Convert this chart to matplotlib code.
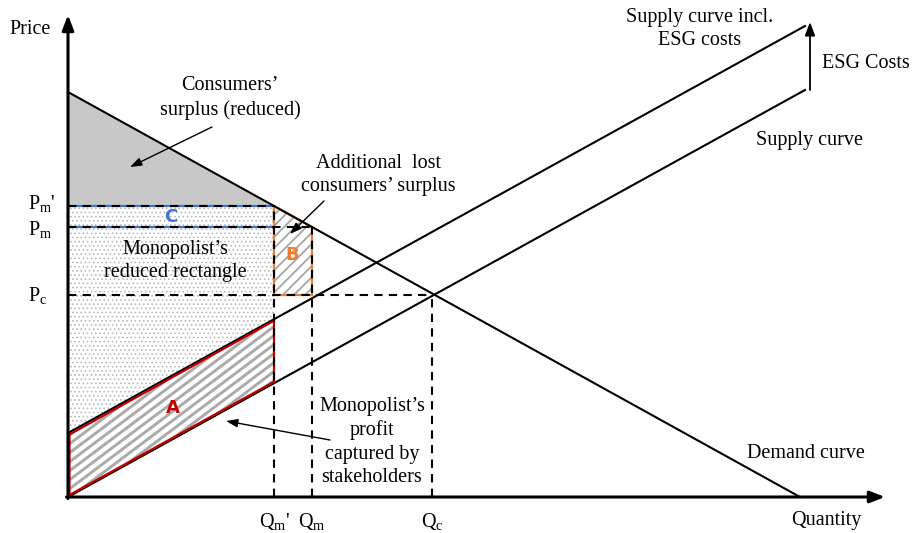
import numpy as np
import matplotlib
matplotlib.use("Agg")
import matplotlib.pyplot as plt
from matplotlib.patches import Polygon

plt.rcParams['font.family'] = ['Liberation Serif', 'DejaVu Serif']
plt.rcParams['mathtext.fontset'] = 'custom'
plt.rcParams['mathtext.rm'] = 'Liberation Serif'
plt.rcParams['mathtext.it'] = 'Liberation Serif'

# ---- data (quantity / price units) ----
demand_q = [0, 732]
demand_p = [405, 0]
supply_q = [0, 737]
supply_p = [0, 407]
esg_shift = 64
esg_supply_p = [esg_shift, 407 + esg_shift]

Q_c, Q_m, Q_mp = 364, 244, 206
P_c, P_m, P_mp = 202, 270, 291

price_labels = [r"P$_{\rm m}$'", r"P$_{\rm m}$", r"P$_{\rm c}$"]
qty_labels = [r"Q$_{\rm m}$'", r"Q$_{\rm m}$", r"Q$_{\rm c}$"]

x_axis_end = 817
y_axis_end = 482


def line_at(q, xs, ys):
    return ys[0] + (ys[1] - ys[0]) * (q - xs[0]) / (xs[1] - xs[0])


def demand(q):
    return line_at(q, demand_q, demand_p)


def supply(q):
    return line_at(q, supply_q, supply_p)


def esg_supply(q):
    return line_at(q, supply_q, esg_supply_p)


fig = plt.figure(figsize=(9.15, 5.33), dpi=100)
ax = fig.add_axes([0, 0, 1, 1])
ax.set_xlim(-68, 847)
ax.set_ylim(-36, 497)
ax.axis('off')

FS = 14.5
LS = 1.32

# stipple region (monopolist's reduced rectangle + C)
with plt.rc_context({'hatch.linewidth': 0.7}):
    stip = Polygon([(0, esg_supply(0)), (0, P_mp), (Q_mp, P_mp), (Q_mp, esg_supply(Q_mp))],
                   closed=True, facecolor='white', edgecolor='#bababa', lw=0, hatch='....', zorder=1)
    ax.add_patch(stip)

# consumers' surplus (reduced)
cs = Polygon([(0, demand(0)), (Q_mp, P_mp), (0, P_mp)], closed=True,
             facecolor='#c8c8c8', edgecolor='none', zorder=1)
ax.add_patch(cs)

# C rectangle outline
crect = Polygon([(0, P_m), (Q_mp, P_m), (Q_mp, P_mp), (0, P_mp)], closed=True,
                facecolor='none', edgecolor='#4472c4', lw=1.6, zorder=2)
ax.add_patch(crect)

# region A: white fill + stripes clipped to the region
a_verts = [(0, supply(0)), (Q_mp, supply(Q_mp)), (Q_mp, esg_supply(Q_mp)), (0, esg_supply(0))]
a_poly = Polygon(a_verts, closed=True, facecolor='white', edgecolor='none', zorder=2)
ax.add_patch(a_poly)
stripe_slope = 0.75
for c in np.arange(-200, 90, 9.0):
    xs = np.array([-5, Q_mp + 5])
    ln, = ax.plot(xs, c + stripe_slope * xs, color='#aaaaaa', lw=2.1, zorder=2.2,
                  solid_capstyle='butt')
    ln.set_clip_path(a_poly)

# region B: 45-degree hatch
with plt.rc_context({'hatch.linewidth': 1.3}):
    b_poly = Polygon([(Q_mp, P_c), (Q_m, P_c), (Q_m, P_m), (Q_mp, P_mp)],
                     closed=True, facecolor='white', edgecolor='#a6a6a6', lw=0, hatch='///', zorder=2)
    ax.add_patch(b_poly)

# curves
ax.plot(demand_q, demand_p, color='black', lw=1.5, zorder=4)
ax.plot(supply_q, supply_p, color='black', lw=1.5, zorder=4)
ax.plot(supply_q, esg_supply_p, color='black', lw=1.5, zorder=4)

# outlines of A and B
ax.add_patch(Polygon([(1.5, supply(0) + 2), (Q_mp, supply(Q_mp) + 1.5), (Q_mp, esg_supply(Q_mp) - 1.5),
                      (1.5, esg_supply(0) - 1.5)],
                     closed=True, facecolor='none', edgecolor='#c00000', lw=1.6, zorder=4.5))
ax.add_patch(Polygon([(Q_mp, P_c), (Q_m, P_c), (Q_m, P_m), (Q_mp, P_mp)],
                     closed=True, facecolor='none', edgecolor='#ed7d31', lw=1.6, zorder=3))

# dashed guide lines
dash = dict(color='black', lw=1.5, linestyle=(0, (4, 3)), zorder=5)
ax.plot([0, Q_mp], [P_mp, P_mp], **dash)
ax.plot([0, Q_m], [P_m, P_m], **dash)
ax.plot([0, Q_c], [P_c, P_c], **dash)
ax.plot([Q_mp, Q_mp], [0, P_mp], **dash)
ax.plot([Q_m, Q_m], [0, P_m], **dash)
ax.plot([Q_c, Q_c], [0, P_c], **dash)

# axes with arrows
arrow_axis = dict(arrowstyle='-|>,head_length=0.9,head_width=0.35', color='black', lw=2.2,
                  shrinkA=0, shrinkB=0)
ax.annotate('', xy=(0, y_axis_end), xytext=(0, -1.5), arrowprops=arrow_axis, zorder=6)
ax.annotate('', xy=(x_axis_end, 0), xytext=(-1.5, 0), arrowprops=arrow_axis, zorder=6)

# ESG cost arrow
ax.annotate('', xy=(742, 475), xytext=(742, 407),
            arrowprops=dict(arrowstyle='-|>,head_length=0.8,head_width=0.3', color='black', lw=1.3,
                            shrinkA=0, shrinkB=0), zorder=6)

# axis labels
ax.text(-38, 467, 'Price', fontsize=FS, ha='center', va='center')
ax.text(758, -24, 'Quantity', fontsize=FS, ha='center', va='center')

# price / quantity tick labels
for lab, p, dy in zip(price_labels, [P_mp, P_m, P_c], [2, -3, -1]):
    ax.text(-40, p + dy, lab, fontsize=FS, ha='left', va='center')
for lab, q in zip(qty_labels, [Q_mp, Q_m, Q_c]):
    ax.text(q, -24, lab, fontsize=FS, ha='center', va='center')

# region letters
letter = dict(fontsize=13, fontweight='bold', family='DejaVu Sans', ha='center', va='center', zorder=7)
ax.text(Q_mp / 2, (P_m + P_mp) / 2, 'C', color='#4472c4', **letter)
ax.text((Q_mp + Q_m) / 2 - 1, 242, 'B', color='#ed7d31', **letter)
ax.text(105, 89, 'A', color='#c00000', **letter)

small_arrow = dict(arrowstyle='-|>,head_length=0.7,head_width=0.25', color='black', lw=1.0,
                   shrinkA=0, shrinkB=0)

# annotations
ax.text(162, 399, "Consumers’\nsurplus (reduced)", fontsize=FS, ha='center', va='center',
        linespacing=LS)
ax.annotate('', xy=(62, 330), xytext=(144, 370), arrowprops=small_arrow, zorder=6)

ax.text(310, 322, "Additional  lost\nconsumers’ surplus", fontsize=FS, ha='center', va='center',
        linespacing=LS)
ax.annotate('', xy=(222, 263), xytext=(256, 296), arrowprops=small_arrow, zorder=6)

ax.text(107, 236, "Monopolist’s\nreduced rectangle", fontsize=FS, ha='center', va='center',
        linespacing=LS, zorder=7)

ax.text(304, 55, "Monopolist’s\nprofit\ncaptured by\nstakeholders", fontsize=FS, ha='center',
        va='center', linespacing=LS, zorder=7)
ax.annotate('', xy=(158, 76), xytext=(262, 57), arrowprops=small_arrow, zorder=6)

ax.text(632, 468, "Supply curve incl.\nESG costs", fontsize=FS, ha='center', va='center',
        linespacing=LS)
ax.text(754, 434, "ESG Costs", fontsize=FS, ha='left', va='center')
ax.text(742, 357, "Supply curve", fontsize=FS, ha='center', va='center')
ax.text(738, 44, "Demand curve", fontsize=FS, ha='center', va='center')

fig.savefig('out.png', dpi=100)
